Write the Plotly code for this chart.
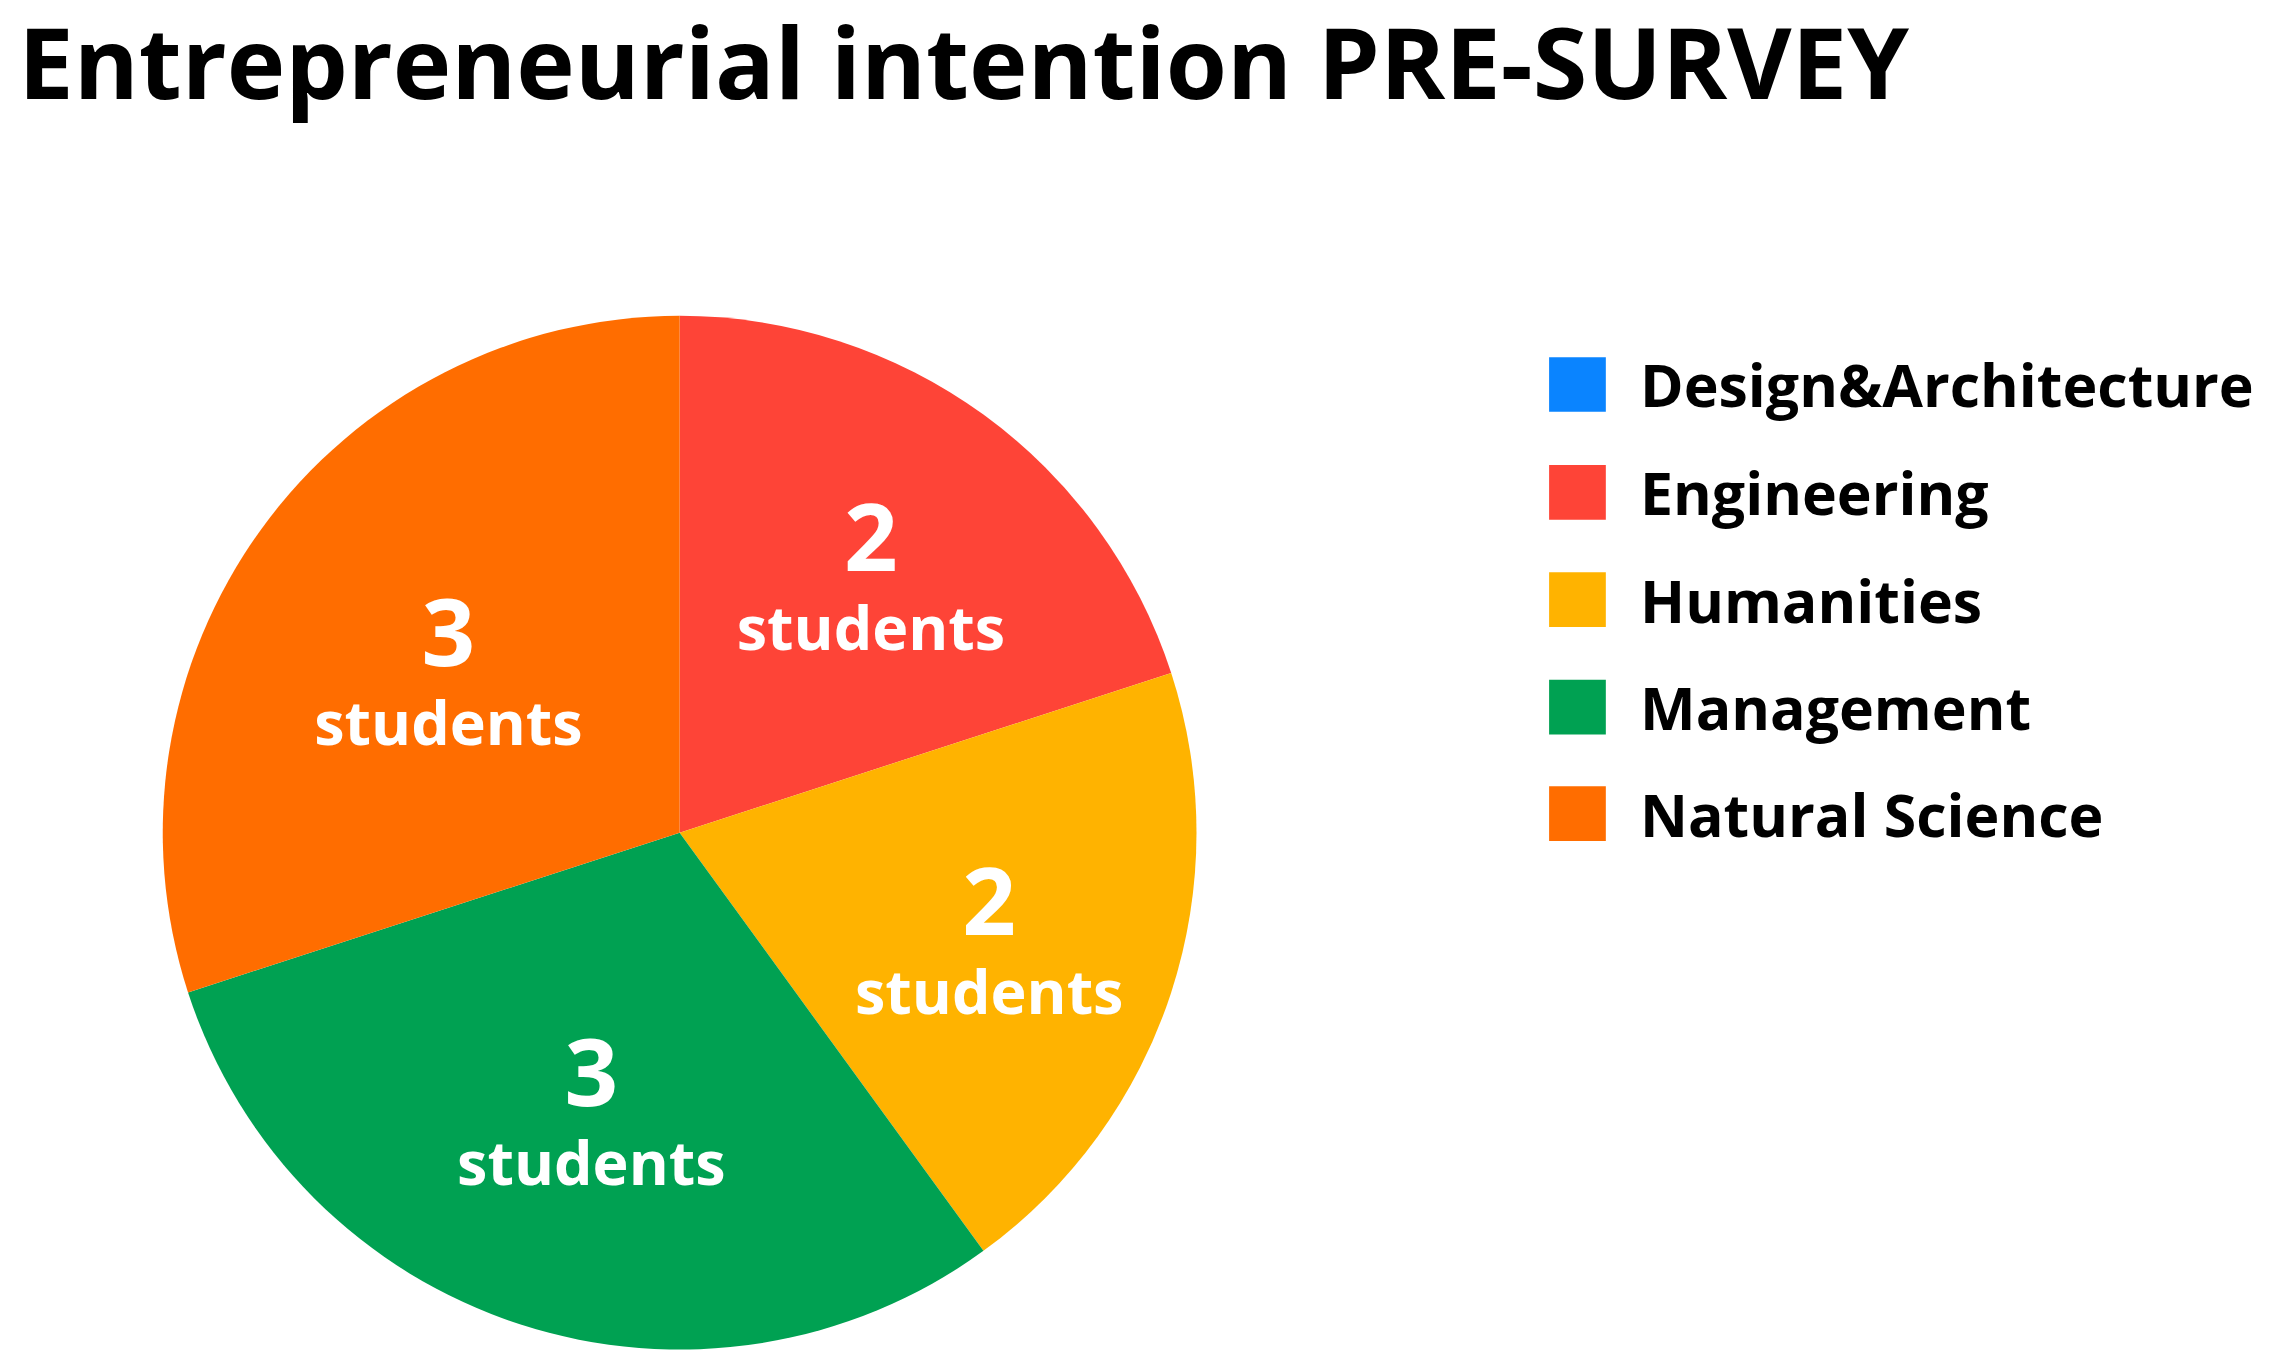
import plotly.graph_objects as go

# dados
categorias = ["Design&Architecture", "Engineering", "Humanities", "Management", "Natural Science"]
alunos = [0, 2, 2, 3, 3]
cores = ["#0a84ff", "#fe4437", "#ffb300", "#00a152", "#ff6d00"]

fonte = "Open Sans"

# texto dentro das fatias: número grande e "students" embaixo
textos = [
    f"<span style='font-size:94px'>{v}</span><br>students" if v > 0 else ""
    for v in alunos
]

fig = go.Figure()

fig.add_trace(
    go.Pie(
        labels=categorias,
        values=alunos,
        text=textos,
        textinfo="text",
        textposition="inside",
        insidetextorientation="horizontal",
        textfont=dict(family=fonte, size=61, color="white", weight="bold"),
        marker=dict(colors=cores, line=dict(width=0)),
        sort=False,
        direction="clockwise",
        rotation=0,
        hole=0,
        showlegend=False,
        domain=dict(x=[0.0682, 0.5238], y=[0.0185, 0.7749]),
    )
)

# legenda desenhada à mão (quadrados grandes)
leg_y = [0.7246, 0.6456, 0.5672, 0.4886, 0.4106]
for nome, cor, y in zip(categorias, cores, leg_y):
    fig.add_shape(
        type="rect", xref="paper", yref="paper",
        x0=0.6792, x1=0.7042, y0=y - 0.0200, y1=y + 0.0200,
        fillcolor=cor, line=dict(width=0),
    )
    fig.add_annotation(
        x=0.7185, y=y, xref="paper", yref="paper",
        text=nome, showarrow=False, xanchor="left", yanchor="middle",
        font=dict(family=fonte, size=59, color="black", weight="bold"),
    )

fig.update_layout(
    title=dict(
        text="Entrepreneurial intention PRE-SURVEY",
        x=0.0045, xanchor="left", xref="paper",
        y=0.984, yanchor="top",
        font=dict(family=fonte, size=99, color="black", weight="bold"),
    ),
    width=2269,
    height=1367,
    margin=dict(l=0, r=0, t=0, b=0),
    paper_bgcolor="white",
    plot_bgcolor="white",
)

fig.write_html("out.html")
